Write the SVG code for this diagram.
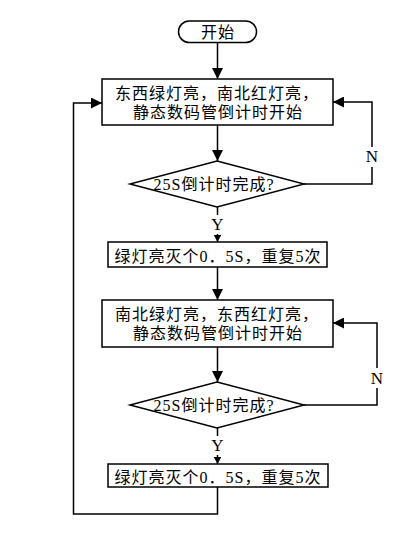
<svg xmlns="http://www.w3.org/2000/svg" width="406" height="542" viewBox="0 0 406 542">
<style>
  .shape { fill: #ffffff; stroke: #000000; stroke-width: 1.5; }
  .conn { fill: none; stroke: #000000; stroke-width: 1.5; }
  .t { font-family: "Liberation Serif", "Noto Sans CJK SC", serif; font-size: 16px; fill: #000000; text-anchor: middle; letter-spacing: 1px; }
  .lbl { font-family: "Liberation Serif", "Noto Sans CJK SC", serif; font-size: 17px; fill: #000000; text-anchor: middle; }
  .bg { fill: #ffffff; stroke: none; }
</style>
<defs>
  <marker id="arr" markerUnits="userSpaceOnUse" markerWidth="11" markerHeight="11" refX="11" refY="5.5" orient="auto">
    <path d="M0,0 L11,5.5 L0,11 Z" fill="#000000"/>
  </marker>
  <marker id="arrs" markerUnits="userSpaceOnUse" markerWidth="8" markerHeight="8" refX="7" refY="3.75" orient="auto">
    <path d="M0,0 L7,3.75 L0,7.5 Z" fill="#000000"/>
  </marker>
</defs>
<rect width="406" height="542" fill="#ffffff"/>

<g id="connectors">
  <line class="conn" x1="217.5" y1="43" x2="217.5" y2="79" marker-end="url(#arr)"/>
  <line class="conn" x1="217.5" y1="125" x2="217.5" y2="161" marker-end="url(#arr)"/>
  <line class="conn" x1="217.5" y1="207" x2="217.5" y2="242" marker-end="url(#arrs)"/>
  <polyline class="conn" points="304,184 372,184 372,102 333,102" marker-end="url(#arr)"/>
  <line class="conn" x1="217.5" y1="267" x2="217.5" y2="300" marker-end="url(#arr)"/>
  <line class="conn" x1="217.5" y1="347" x2="217.5" y2="382" marker-end="url(#arr)"/>
  <line class="conn" x1="217.5" y1="428" x2="217.5" y2="464" marker-end="url(#arrs)"/>
  <polyline class="conn" points="304,405 377,405 377,323 333,323" marker-end="url(#arr)"/>
  <polyline class="conn" points="217.5,487 217.5,514 73.5,514 73.5,103 102,103" marker-end="url(#arr)"/>
</g>

<g id="labels">
  <rect class="bg" x="210" y="215" width="15" height="19"/>
  <text class="lbl" x="217.5" y="230">Y</text>
  <rect class="bg" x="364" y="147" width="16" height="20"/>
  <text class="lbl" x="372" y="161.5">N</text>
  <rect class="bg" x="210" y="436" width="15" height="19"/>
  <text class="lbl" x="217.5" y="451">Y</text>
  <rect class="bg" x="369" y="368" width="16" height="20"/>
  <text class="lbl" x="377" y="383.5">N</text>
</g>

<g id="start">
  <rect class="shape" x="178.5" y="21" width="78" height="21.5" rx="10.75" ry="10.75"/>
  <text class="t" x="218" y="37.5">开始</text>
</g>

<g id="box1">
  <rect class="shape" x="102" y="79" width="231" height="46"/>
  <text class="t" x="217" y="99">东西绿灯亮，南北红灯亮，</text>
  <text class="t" x="218" y="118">静态数码管倒计时开始</text>
</g>

<g id="decision1">
  <polygon class="shape" points="217,161 304,184 217,207 130,184"/>
  <text class="t" x="214" y="190">25S倒计时完成?</text>
</g>

<g id="blink1">
  <rect class="shape" x="108" y="242" width="219" height="25"/>
  <text class="t" x="218" y="261.5">绿灯亮灭个0．5S，重复5次</text>
</g>

<g id="box2">
  <rect class="shape" x="102" y="300" width="231" height="47"/>
  <text class="t" x="217" y="320">南北绿灯亮，东西红灯亮，</text>
  <text class="t" x="218" y="339">静态数码管倒计时开始</text>
</g>

<g id="decision2">
  <polygon class="shape" points="217,382 304,405 217,428 130,405"/>
  <text class="t" x="214" y="411">25S倒计时完成?</text>
</g>

<g id="blink2">
  <rect class="shape" x="108" y="464" width="220" height="23"/>
  <text class="t" x="218" y="482.5">绿灯亮灭个0．5S，重复5次</text>
</g>
</svg>
